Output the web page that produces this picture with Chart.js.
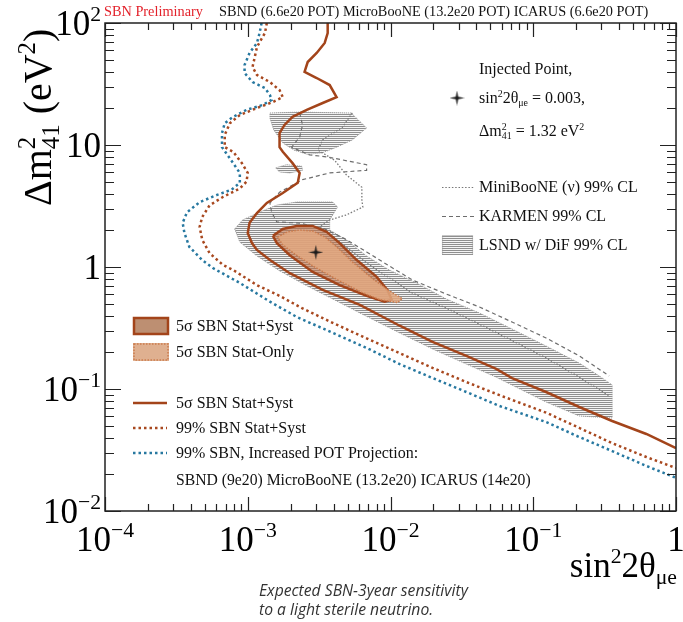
<!DOCTYPE html>
<html>
<head>
<meta charset="utf-8">
<script src="https://cdn.jsdelivr.net/npm/chart.js@4.4.1/dist/chart.umd.min.js"></script>
<style>
  html, body { margin: 0; padding: 0; background: #fff; }
  canvas { display: block; }
</style>
</head>
<body>
<canvas id="sbn" width="683" height="622"></canvas>
<script>
// SBN sensitivity plot
// x = sin^2 2theta_mue, y = dm^2_41 (eV^2)

const xDecades = [1e-4, 1e-3, 1e-2, 1e-1, 1];
const yDecades = [1e-2, 1e-1, 1, 10, 100];
const xTickLabels = [["10", "\u22124"], ["10", "\u22123"], ["10", "\u22122"], ["10", "\u22121"], ["1", ""]];
const yTickLabels = [["10", "\u22122"], ["10", "\u22121"], ["1", ""], ["10", ""], ["10", "2"]];

const injectedPoint = [[0.003, 1.32]];

// 99% SBN, increased POT projection
const blueProjection = [
  [1.25e-3, 100], [1.21e-3, 82.8], [1.16e-3, 68.6], [1.03e-3, 56.8], [9.5e-4, 45.3],
  [9.5e-4, 38.9], [1.08e-3, 32.8], [1.32e-3, 29.3], [1.43e-3, 25.7], [1.47e-3, 23.4],
  [1.27e-3, 21.3], [9.8e-4, 19.4], [7.9e-4, 17.0], [6.9e-4, 15.1], [6.6e-4, 12.5],
  [6.6e-4, 9.6], [7.9e-4, 7.1], [8.8e-4, 5.9], [8.8e-4, 4.9], [7.7e-4, 4.3],
  [6.1e-4, 3.9], [4.6e-4, 3.4], [3.75e-4, 2.8], [3.5e-4, 2.3], [3.6e-4, 1.9],
  [3.9e-4, 1.46], [4.8e-4, 1.14], [5.7e-4, 0.98], [8.8e-4, 0.74], [1.43e-3, 0.52],
  [2.2e-3, 0.39], [3.9e-3, 0.29], [6.8e-3, 0.217], [1.16e-2, 0.16], [1.97e-2, 0.123],
  [3.4e-2, 0.0945], [5.8e-2, 0.0726], [0.123, 0.0536], [0.21, 0.0404], [0.357, 0.031],
  [0.62, 0.0234], [1, 0.0187]
];

// 99% SBN stat+syst
const brownDotted = [
  [1.36e-3, 100], [1.32e-3, 82.8], [1.16e-3, 63.6], [1.12e-3, 52.6], [1.08e-3, 43.6],
  [1.16e-3, 37.5], [1.43e-3, 32.8], [1.67e-3, 28.2], [1.76e-3, 24.7], [1.5e-3, 22.5],
  [1.16e-3, 20.1], [8.8e-4, 17.6], [7.5e-4, 15.1], [6.9e-4, 12.1], [6.9e-4, 9.6],
  [7.9e-4, 8.8], [9.1e-4, 7.1], [1.0e-3, 5.9], [9.8e-4, 5.0], [8.8e-4, 4.4],
  [6.7e-4, 3.75], [5.4e-4, 3.2], [4.8e-4, 2.57], [4.6e-4, 2.13], [4.8e-4, 1.67],
  [5.4e-4, 1.3], [6.7e-4, 1.04], [7.9e-4, 0.945], [1.16e-3, 0.71], [1.67e-3, 0.58],
  [2.4e-3, 0.46], [3.9e-3, 0.35], [6.8e-3, 0.26], [1.16e-2, 0.197], [1.97e-2, 0.149],
  [3.4e-2, 0.114], [5.8e-2, 0.089], [0.123, 0.064], [0.21, 0.048], [0.357, 0.036],
  [0.62, 0.0277], [1, 0.0225]
];

// 5 sigma SBN stat+syst (exclusion line)
const brownSolid = [
  [3.63e-3, 100], [3.63e-3, 82.8], [3.46e-3, 68.6], [3.04e-3, 56.8], [2.63e-3, 47.9],
  [2.5e-3, 39.7], [3.04e-3, 35.4], [3.75e-3, 31.0], [4.19e-3, 24.7], [3.35e-3, 22.1],
  [2.59e-3, 19.4], [2.06e-3, 17.0], [1.81e-3, 14.6], [1.67e-3, 12.5], [1.67e-3, 9.6],
  [1.76e-3, 8.8], [2.06e-3, 7.1], [2.31e-3, 5.9], [2.24e-3, 4.9], [1.76e-3, 4.04],
  [1.36e-3, 3.35], [1.16e-3, 2.77], [1.03e-3, 2.3], [1.0e-3, 1.9], [1.07e-3, 1.57],
  [1.16e-3, 1.38], [1.43e-3, 1.14], [1.97e-3, 0.89], [3.35e-3, 0.65], [6.1e-3, 0.49],
  [1.16e-2, 0.33], [1.97e-2, 0.243], [3.4e-2, 0.187], [5.5e-2, 0.146], [7.1e-2, 0.123],
  [0.123, 0.0945], [0.21, 0.0712], [0.357, 0.0547], [0.62, 0.0428], [1, 0.0328]
];

// closed 5 sigma contours around the injected point
const systContour = [
  [1.5e-3, 1.8], [1.76e-3, 2.05], [2.2e-3, 2.17], [2.85e-3, 2.17], [3.57e-3, 1.94],
  [4.4e-3, 1.57], [5.8e-3, 1.14], [8.0e-3, 0.83], [9.5e-3, 0.65], [1.02e-2, 0.54],
  [9.1e-3, 0.52], [6.8e-3, 0.58], [4.4e-3, 0.71], [2.85e-3, 0.91], [1.97e-3, 1.25],
  [1.6e-3, 1.57], [1.5e-3, 1.8]
];
const statContour = [
  [1.62e-3, 1.76], [1.9e-3, 1.94], [2.31e-3, 2.01], [2.85e-3, 1.97], [3.46e-3, 1.76],
  [4.2e-3, 1.46], [5.3e-3, 1.12], [7.4e-3, 0.81], [9.8e-3, 0.64], [1.21e-2, 0.55],
  [1.12e-2, 0.51], [8.4e-3, 0.54], [6.3e-3, 0.62], [4.3e-3, 0.78], [2.94e-3, 1.0],
  [2.13e-3, 1.28], [1.76e-3, 1.52], [1.62e-3, 1.76]
];

// LSND w/ DiF 99% CL islands
const lsndUpper = [
  [1.43e-3, 18.3], [2.3e-3, 18.6], [5.3e-3, 18.3], [6.8e-3, 13.8], [5.4e-3, 11.0],
  [4.2e-3, 9.6], [3.3e-3, 8.6], [2.6e-3, 8.4], [2.1e-3, 9.1], [1.76e-3, 10.4],
  [1.52e-3, 13.3], [1.43e-3, 16.6], [1.43e-3, 18.3]
];
const lsndSmall = [
  [1.57e-3, 6.5], [1.87e-3, 6.9], [2.39e-3, 6.7], [2.42e-3, 6.2], [1.97e-3, 5.9],
  [1.67e-3, 6.0], [1.57e-3, 6.5]
];
const lsndLower = [
  [8.1e-4, 2.05], [9.2e-4, 2.43], [1.21e-3, 2.82], [1.6e-3, 3.22], [2.2e-3, 3.41],
  [3.93e-3, 3.41], [4.26e-3, 3.1], [3.75e-3, 2.43], [3.75e-3, 2.01], [4.9e-3, 1.67],
  [6.8e-3, 1.23], [9.8e-3, 0.945], [1.52e-2, 0.74], [2.46e-2, 0.547], [4.2e-2, 0.42],
  [7.1e-2, 0.31], [0.123, 0.225], [0.21, 0.163], [0.29, 0.128], [0.357, 0.108],
  [0.357, 0.0578], [0.21, 0.0601], [0.123, 0.0782], [5.5e-2, 0.125], [3.4e-2, 0.16],
  [1.97e-2, 0.213], [1.16e-2, 0.288], [6.1e-3, 0.42], [4.2e-3, 0.526], [2.6e-3, 0.70],
  [1.67e-3, 0.93], [1.16e-3, 1.23], [8.8e-4, 1.6], [8.1e-4, 2.05]
];

// KARMEN 99% CL
const karmen = [
  [2.31e-3, 18.3], [2.42e-3, 14.6], [2.31e-3, 11.6], [2.03e-3, 9.6], [2.71e-3, 8.3],
  [3.57e-3, 8.0], [6.8e-3, 6.9], [6.8e-3, 6.2], [3.75e-3, 5.9], [2.42e-3, 5.2],
  [1.67e-3, 4.1], [1.43e-3, 3.35], [1.47e-3, 2.82], [1.6e-3, 2.34], [2.31e-3, 2.29],
  [3.46e-3, 2.05], [4.8e-3, 1.7], [6.8e-3, 1.33], [9.8e-3, 1.02], [1.43e-2, 0.78],
  [2.46e-2, 0.60], [4.2e-2, 0.47], [7.1e-2, 0.354], [0.123, 0.262], [0.21, 0.187],
  [0.34, 0.128]
];

// MiniBooNE (nu) 99% CL
const miniboone = [
  [5.4e-3, 18.3], [4.6e-3, 14.0], [3.35e-3, 11.0], [3.1e-3, 9.1], [4.06e-3, 7.5],
  [4.9e-3, 5.7], [6.3e-3, 4.5], [6.3e-3, 3.54], [6.4e-3, 3.1], [4.9e-3, 2.67],
  [3.75e-3, 2.43], [3.2e-3, 2.13], [4.4e-3, 1.6], [6.8e-3, 1.08], [1.43e-2, 0.61],
  [2.46e-2, 0.46], [4.2e-2, 0.34], [7.1e-2, 0.25], [0.123, 0.18], [0.21, 0.125],
  [0.34, 0.088]
];

const BROWN = "#a3441a";
const BROWN_DOT = "#a8481f";
const BLUE = "#2778a0";
const SERIF = "'Liberation Serif', 'Times New Roman', serif";

const canvas = document.getElementById("sbn");
const ctx0 = canvas.getContext("2d");

// fine horizontal hatch used for LSND
function makeHatch() {
  const c = document.createElement("canvas");
  c.width = 4; c.height = 2;
  const g = c.getContext("2d");
  g.fillStyle = "#f4f4f4"; g.fillRect(0, 0, 4, 2);
  g.fillStyle = "#8f8f8f"; g.fillRect(0, 0, 4, 1);
  return ctx0.createPattern(c, "repeat");
}
const hatch = makeHatch();

// 4-point star marker
function makeStar() {
  const c = document.createElement("canvas");
  c.width = 15; c.height = 15;
  const g = c.getContext("2d");
  g.fillStyle = "#1a1a1a";
  g.beginPath();
  g.moveTo(7.5, 0); g.lineTo(8.7, 6.3); g.lineTo(15, 7.5); g.lineTo(8.7, 8.7);
  g.lineTo(7.5, 15); g.lineTo(6.3, 8.7); g.lineTo(0, 7.5); g.lineTo(6.3, 6.3);
  g.closePath(); g.fill();
  return c;
}
const star = makeStar();

const pts = (arr) => arr.map(([x, y]) => ({ x, y }));

function lineSet(data, color, width, dash, order) {
  return { data: pts(data), borderColor: color, borderWidth: width, borderDash: dash,
    fill: false, pointRadius: 0, tension: 0, order: order };
}
function areaSet(data, bg, border, width, dash, order) {
  return { data: pts(data), backgroundColor: bg, borderColor: border, borderWidth: width,
    borderDash: dash, fill: "shape", pointRadius: 0, tension: 0, order: order };
}

// rich text: strings plus {sup, sub} pieces
function drawRich(ctx, parts, x, y, size, align, family) {
  family = family || SERIF;
  const small = size * 0.62;
  const widths = parts.map((p) => {
    if (typeof p === "string") { ctx.font = size + "px " + family; return ctx.measureText(p).width; }
    ctx.font = small + "px " + family;
    return Math.max(p.sup ? ctx.measureText(p.sup).width : 0, p.sub ? ctx.measureText(p.sub).width : 0);
  });
  const total = widths.reduce((a, b) => a + b, 0);
  let cx = align === "right" ? x - total : align === "center" ? x - total / 2 : x;
  ctx.textAlign = "left";
  ctx.textBaseline = "alphabetic";
  parts.forEach((p, i) => {
    if (typeof p === "string") {
      ctx.font = size + "px " + family;
      ctx.fillText(p, cx, y);
    } else {
      ctx.font = small + "px " + family;
      if (p.sup) ctx.fillText(p.sup, cx, y - size * 0.4);
      if (p.sub) ctx.fillText(p.sub, cx, y + size * 0.2);
    }
    cx += widths[i];
  });
  return total;
}

const decorations = {
  id: "decorations",
  afterDraw(chart) {
    const ctx = chart.ctx;
    const { left, right, top, bottom } = chart.chartArea;
    const xs = chart.scales.x, ys = chart.scales.y;
    ctx.save();
    ctx.strokeStyle = "#222";
    ctx.lineWidth = 1.2;
    ctx.setLineDash([]);

    // ticks, inward on all four sides
    ctx.beginPath();
    for (let d = 0; d < xDecades.length; d++) {
      for (let m = 1; m <= 9; m++) {
        const v = xDecades[d] * m;
        if (v > 1.0001) break;
        const px = Math.round(xs.getPixelForValue(v)) + 0.5;
        const len = m === 1 ? 14 : 7;
        ctx.moveTo(px, bottom); ctx.lineTo(px, bottom - len);
        ctx.moveTo(px, top); ctx.lineTo(px, top + len);
      }
    }
    for (let d = 0; d < yDecades.length; d++) {
      for (let m = 1; m <= 9; m++) {
        const v = yDecades[d] * m;
        if (v > 100.001) break;
        const py = Math.round(ys.getPixelForValue(v)) + 0.5;
        const len = m === 1 ? 16 : 9;
        ctx.moveTo(left, py); ctx.lineTo(left + len, py);
        ctx.moveTo(right, py); ctx.lineTo(right - len, py);
      }
    }
    ctx.stroke();
    ctx.lineWidth = 1.5;
    ctx.strokeRect(left, top, right - left, bottom - top);

    // tick labels
    ctx.fillStyle = "#000";
    xDecades.forEach((v, i) => {
      const [b, e] = xTickLabels[i];
      drawRich(ctx, e ? [b, { sup: e }] : [b], xs.getPixelForValue(v), 551, 35, "center");
    });
    yDecades.forEach((v, i) => {
      const [b, e] = yTickLabels[i];
      drawRich(ctx, e ? [b, { sup: e }] : [b], 101, ys.getPixelForValue(v) + 12, 35, "right");
    });

    // axis titles
    drawRich(ctx, ["sin", { sup: "2" }, "2\u03b8", { sub: "\u03bce" }], 677, 577, 35, "right");
    ctx.save();
    ctx.translate(51, 206);
    ctx.rotate(-Math.PI / 2);
    drawRich(ctx, ["\u0394m", { sup: "2", sub: "41" }, " (eV", { sup: "2" }, ")"], 0, 0, 40, "left");
    ctx.restore();

    // header
    ctx.font = "14.3px " + SERIF;
    ctx.fillStyle = "#e3222b";
    ctx.fillText("SBN Preliminary", 104, 16);
    ctx.fillStyle = "#111";
    ctx.fillText("SBND (6.6e20 POT) MicroBooNE (13.2e20 POT) ICARUS (6.6e20 POT)", 219, 16);

    // injected point legend
    ctx.fillStyle = "#111";
    drawRich(ctx, ["Injected Point,"], 479, 74, 16, "left");
    ctx.drawImage(star, 457 - 7.5, 98 - 7.5);
    drawRich(ctx, ["sin", { sup: "2" }, "2\u03b8", { sub: "\u03bce" }, " = 0.003,"], 479, 103, 16, "left");
    drawRich(ctx, ["\u0394m", { sup: "2", sub: "41" }, " = 1.32 eV", { sup: "2" }], 479, 136, 16, "left");

    // experiment legend
    ctx.lineWidth = 1.2;
    ctx.strokeStyle = "#777";
    ctx.setLineDash([1.5, 1.8]);
    ctx.beginPath(); ctx.moveTo(442, 187.5); ctx.lineTo(475, 187.5); ctx.stroke();
    ctx.strokeStyle = "#6d6d6d";
    ctx.setLineDash([4, 3]);
    ctx.beginPath(); ctx.moveTo(442, 216.5); ctx.lineTo(475, 216.5); ctx.stroke();
    ctx.setLineDash([1, 1]);
    ctx.fillStyle = hatch;
    ctx.fillRect(442, 235, 31, 20);
    ctx.strokeStyle = "#999";
    ctx.strokeRect(442.5, 235.5, 30, 19);
    ctx.fillStyle = "#111";
    drawRich(ctx, ["MiniBooNE (\u03bd) 99% CL"], 479, 192, 16, "left");
    drawRich(ctx, ["KARMEN 99% CL"], 479, 221, 16, "left");
    drawRich(ctx, ["LSND w/ DiF 99% CL"], 479, 250, 16, "left");

    // SBN legend
    ctx.setLineDash([]);
    ctx.fillStyle = "#bd8f72";
    ctx.fillRect(133, 317, 36, 18);
    ctx.strokeStyle = BROWN; ctx.lineWidth = 2.5;
    ctx.strokeRect(134, 318, 34, 16);
    ctx.fillStyle = "#dfb090";
    ctx.fillRect(133, 343, 36, 18);
    ctx.strokeStyle = "#cc7c4d"; ctx.lineWidth = 1.5; ctx.setLineDash([1.5, 1.5]);
    ctx.strokeRect(134, 344, 34, 16);

    ctx.setLineDash([]);
    ctx.strokeStyle = BROWN; ctx.lineWidth = 2.5;
    ctx.beginPath(); ctx.moveTo(133, 403); ctx.lineTo(167, 403); ctx.stroke();
    ctx.setLineDash([2.5, 3]);
    ctx.strokeStyle = BROWN_DOT;
    ctx.beginPath(); ctx.moveTo(133, 428); ctx.lineTo(167, 428); ctx.stroke();
    ctx.strokeStyle = BLUE;
    ctx.beginPath(); ctx.moveTo(133, 453); ctx.lineTo(167, 453); ctx.stroke();
    ctx.setLineDash([]);

    ctx.fillStyle = "#111";
    drawRich(ctx, ["5\u03c3 SBN Stat+Syst"], 176, 331, 16, "left");
    drawRich(ctx, ["5\u03c3 SBN Stat-Only"], 176, 357, 16, "left");
    drawRich(ctx, ["5\u03c3 SBN Stat+Syst"], 176, 408, 16, "left");
    drawRich(ctx, ["99% SBN Stat+Syst"], 176, 433, 16, "left");
    drawRich(ctx, ["99% SBN, Increased POT Projection:"], 176, 458, 16, "left");
    drawRich(ctx, ["SBND (9e20) MicroBooNE (13.2e20) ICARUS (14e20)"], 176, 485, 15.7, "left");

    // caption
    ctx.fillStyle = "#333";
    ctx.font = "italic 15.7px 'Open Sans'";
    ctx.fillText("Expected SBN-3year sensitivity", 259, 596);
    ctx.fillText("to a light sterile neutrino.", 259, 615);
    ctx.restore();
  }
};

new Chart(canvas, {
  type: "line",
  data: {
    datasets: [
      { data: pts(injectedPoint), showLine: false, pointStyle: star, pointRadius: 6, order: 0 },
      lineSet(blueProjection, BLUE, 2.5, [2.5, 3], 3),
      lineSet(brownDotted, BROWN_DOT, 2.5, [2.5, 3], 4),
      lineSet(brownSolid, BROWN, 2.5, [], 5),
      areaSet(statContour, "rgba(226,168,128,0.85)", "#cc7c4d", 1.5, [1.5, 1.5], 8),
      areaSet(systContour, "rgba(190,112,70,0.6)", BROWN, 2.5, [], 9),
      lineSet(miniboone, "#7a7a7a", 1.3, [1.5, 1.8], 12),
      lineSet(karmen, "#6d6d6d", 1.2, [4, 3], 13),
      areaSet(lsndUpper, hatch, "#9a9a9a", 1, [1, 1], 20),
      areaSet(lsndSmall, hatch, "#9a9a9a", 1, [1, 1], 21),
      areaSet(lsndLower, hatch, "#9a9a9a", 1, [1, 1], 22)
    ]
  },
  options: {
    responsive: false,
    animation: false,
    devicePixelRatio: 1,
    layout: { padding: { left: 105, right: 7, top: 23, bottom: 111 } },
    plugins: { legend: { display: false }, tooltip: { enabled: false } },
    scales: {
      x: { type: "logarithmic", min: 1e-4, max: 1, display: false },
      y: { type: "logarithmic", min: 1e-2, max: 100, display: false }
    }
  },
  plugins: [decorations]
});
</script>
</body>
</html>
